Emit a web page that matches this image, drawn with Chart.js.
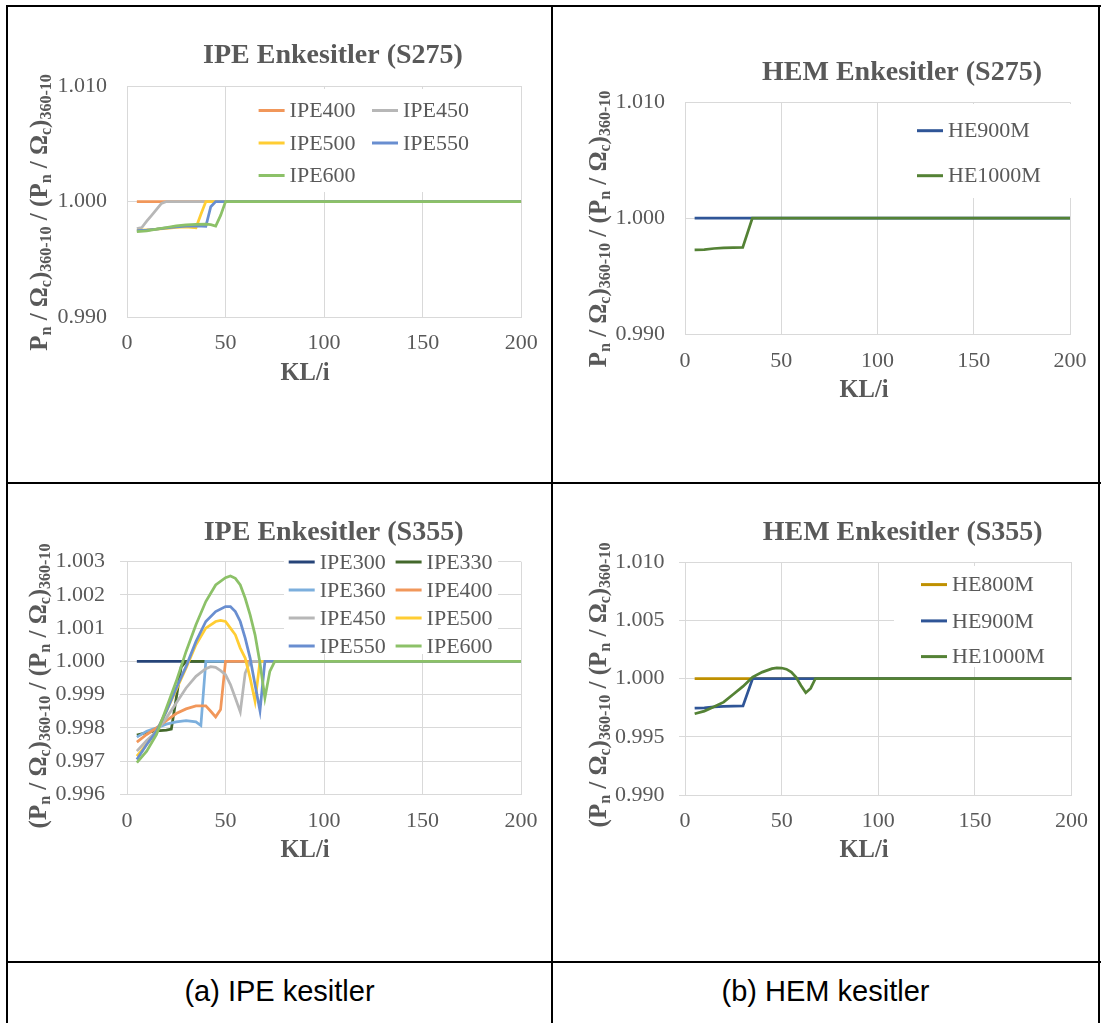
<!DOCTYPE html>
<html>
<head>
<meta charset="utf-8">
<script src="https://cdn.jsdelivr.net/npm/chart.js@4.4.1/dist/chart.umd.min.js"></script>
<style>
  html, body { margin: 0; padding: 0; background: #fff; }
  #page { position: relative; width: 1101px; height: 1023px; overflow: hidden; background: #fff; }
  .cell { position: absolute; }
  .ln { position: absolute; background: #000; }
  .cap { position: absolute; height: 40px; line-height: 40px; text-align: center;
         font: 29px "Liberation Sans", Arial, sans-serif; color: #000; }
</style>
</head>
<body>
<div id="page">
  <div class="cell" style="left:8px;top:7px"><canvas id="c1" width="543" height="475"></canvas></div>
  <div class="cell" style="left:553px;top:7px"><canvas id="c2" width="548" height="475"></canvas></div>
  <div class="cell" style="left:8px;top:484px"><canvas id="c3" width="543" height="477"></canvas></div>
  <div class="cell" style="left:553px;top:484px"><canvas id="c4" width="548" height="477"></canvas></div>

  <div class="ln" style="left:6px;top:5px;width:1095px;height:2px"></div>
  <div class="ln" style="left:6px;top:482px;width:1095px;height:2px"></div>
  <div class="ln" style="left:6px;top:961px;width:1095px;height:2px"></div>
  <div class="ln" style="left:6px;top:5px;width:2px;height:1018px"></div>
  <div class="ln" style="left:551px;top:5px;width:2px;height:1018px"></div>
  <div class="ln" style="left:1098px;top:5px;width:2px;height:1018px"></div>

  <div class="cap" style="left:8px;top:975px;width:543px">(a) IPE kesitler</div>
  <div class="cap" style="left:553px;top:975px;width:545px">(b) HEM kesitler</div>
</div>

<script>
// ---- data: [KL/i, ratio] ----
const xTicks = [0, 50, 100, 150, 200];
const yTicksS275 = [0.990, 1.000, 1.010];
const yTicksIpeS355 = [0.996, 0.997, 0.998, 0.999, 1.000, 1.001, 1.002, 1.003];
const yTicksHemS355 = [0.990, 0.995, 1.000, 1.005, 1.010];

// IPE, S275
const ipe400S275 = [[5, 1.000], [200, 1.000]];
const ipe450S275 = [[5, 0.99765], [7.5, 0.99775], [10, 0.9983], [12.5, 0.9988], [15, 0.99932], [17.5, 0.99983], [20, 1.000], [200, 1.000]];
const ipe500S275 = [[5, 0.9975], [10, 0.99755], [15, 0.9976], [20, 0.99768], [25, 0.99776], [30, 0.9978], [35, 0.99772], [37.5, 0.9989], [40, 1.000], [200, 1.000]];
const ipe550S275 = [[5, 0.99748], [10, 0.99752], [15, 0.9976], [20, 0.99772], [25, 0.9978], [30, 0.99786], [35, 0.9979], [40, 0.99785], [42.5, 0.99955], [45, 1.000], [200, 1.000]];
const ipe600S275 = [[5, 0.9974], [10, 0.99746], [15, 0.9976], [20, 0.99775], [25, 0.99788], [30, 0.99798], [35, 0.99803], [40, 0.99805], [42.5, 0.998], [45, 0.99788], [47.5, 0.9988], [50, 1.000], [200, 1.000]];

// HEM, S275
const he900mS275 = [[5, 1.000], [200, 1.000]];
const he1000mS275 = [[5, 0.99727], [10, 0.99729], [15, 0.99738], [20, 0.99744], [25, 0.99746], [30, 0.99748], [35, 1.000], [200, 1.000]];

// IPE, S355
const ipe300S355 = [[5, 1.000], [200, 1.000]];
const ipe330S355 = [[5, 0.99778], [10, 0.99786], [15, 0.99791], [20, 0.99793], [22.5, 0.99796], [27.5, 0.99983], [30, 1.000], [200, 1.000]];
const ipe360S355 = [[5, 0.99772], [10, 0.9979], [15, 0.998], [20, 0.99811], [25, 0.99818], [30, 0.99822], [35, 0.99818], [37.5, 0.99807], [40, 1.000], [200, 1.000]];
const ipe400S355 = [[5, 0.99757], [10, 0.9978], [15, 0.998], [20, 0.99822], [25, 0.99843], [30, 0.99857], [35, 0.99866], [40, 0.99866], [42.5, 0.9985], [45, 0.99833], [47.5, 0.99855], [50, 1.000], [200, 1.000]];
const ipe450S355 = [[5, 0.9973], [10, 0.99762], [15, 0.9979], [20, 0.9983], [25, 0.99875], [30, 0.9992], [35, 0.99955], [40, 0.99978], [42.5, 0.99984], [45, 0.99982], [47.5, 0.99972], [50, 0.9996], [52.5, 0.9993], [55, 0.9989], [57.5, 0.99848], [60, 0.99965], [62.5, 1.000], [200, 1.000]];
const ipe500S355 = [[5, 0.99715], [10, 0.9975], [15, 0.9979], [20, 0.9985], [25, 0.99915], [30, 0.9998], [35, 1.0005], [40, 1.001], [45, 1.0012], [47.5, 1.00123], [50, 1.0012], [52.5, 1.001], [55, 1.0008], [57.5, 1.0004], [60, 1.0001], [62.5, 0.9995], [65, 0.9988], [67.5, 1.000], [200, 1.000]];
const ipe550S355 = [[5, 0.99705], [10, 0.9975], [15, 0.9979], [20, 0.9985], [25, 0.9992], [30, 0.99985], [35, 1.0006], [40, 1.0012], [45, 1.0015], [50, 1.00165], [52.5, 1.00165], [55, 1.0015], [57.5, 1.0012], [60, 1.0007], [62.5, 1.0001], [65, 0.9993], [67.5, 0.99852], [70, 1.000], [200, 1.000]];
const ipe600S355 = [[5, 0.99695], [10, 0.9973], [15, 0.9978], [20, 0.9986], [25, 0.9994], [30, 1.0003], [35, 1.0011], [40, 1.0018], [45, 1.0023], [50, 1.00252], [52.5, 1.00257], [55, 1.0025], [57.5, 1.0023], [60, 1.0019], [62.5, 1.0014], [65, 1.0008], [67.5, 0.99995], [70, 0.9989], [72.5, 0.9997], [75, 1.000], [200, 1.000]];

// HEM, S355
const he800mS355 = [[5, 1.000], [200, 1.000]];
const he900mS355 = [[5, 0.99745], [10, 0.99748], [15, 0.99757], [20, 0.9976], [25, 0.99762], [30, 0.99765], [35, 1.000], [200, 1.000]];
const he1000mS355 = [[5, 0.99697], [10, 0.9972], [15, 0.99757], [20, 0.99797], [25, 0.99865], [30, 0.99932], [35, 1.00012], [40, 1.00055], [45, 1.00085], [47.5, 1.00092], [50, 1.0009], [52.5, 1.0008], [55, 1.00055], [57.5, 1.0001], [60, 0.9994], [62.5, 0.99878], [65, 0.99915], [67.5, 1.000], [200, 1.000]];

// ---- styles / layout ----
const INK = '#595959';
const GRID = '#d9d9d9';
const SERIF = '"Liberation Serif", "Times New Roman", serif';

const panels = [
  {
    id: 'c1', box: [8, 7, 543, 475], plot: [127, 86, 522, 317],
    yMin: 0.990, yMax: 1.010, yTicks: yTicksS275, tickLen: 0, yPad: 20, xPad: 13.3,
    title: 'IPE Enkesitler (S275)', titleAt: [333, 56], xTitleAt: [305, 373.3],
    yTitleOpen: false, yTitleAt: [47.4, 212.5],
    legendBox: [245, 89, 255, 103], legendCols: [258.6, 372], legendRows: [110.5, 143, 175.5],
    series: [
      { label: 'IPE400', color: '#F1975A', data: ipe400S275 },
      { label: 'IPE450', color: '#B7B7B7', data: ipe450S275 },
      { label: 'IPE500', color: '#FFCD33', data: ipe500S275 },
      { label: 'IPE550', color: '#698ED0', data: ipe550S275 },
      { label: 'IPE600', color: '#8CC168', data: ipe600S275 }
    ]
  },
  {
    id: 'c2', box: [553, 7, 548, 475], plot: [685, 102.3, 1081, 334],
    yMin: 0.990, yMax: 1.010, yTicks: yTicksS275, tickLen: 0, yPad: 20, xPad: 14.5,
    title: 'HEM Enkesitler (S275)', titleAt: [902, 72.5], xTitleAt: [864, 390.7],
    yTitleOpen: false, yTitleAt: [606.4, 229],
    legendBox: [905, 104, 170, 94], legendCols: [917], legendRows: [130.7, 175.7],
    series: [
      { label: 'HE900M', color: '#2F5597', data: he900mS275 },
      { label: 'HE1000M', color: '#548235', data: he1000mS275 }
    ]
  },
  {
    id: 'c3', box: [8, 484, 543, 477], plot: [127, 561.7, 522, 794.3],
    yMin: 0.996, yMax: 1.003, yTicks: yTicksIpeS355, tickLen: 7, yPad: 15, xPad: 13.5,
    title: 'IPE Enkesitler (S355)', titleAt: [333.6, 532.5], xTitleAt: [305, 850.5],
    yTitleOpen: true, yTitleAt: [45.6, 686],
    legendBox: [284, 550, 214, 104], legendCols: [288.7, 395.6], legendRows: [562, 590, 618, 646],
    series: [
      { label: 'IPE300', color: '#264478', data: ipe300S355 },
      { label: 'IPE330', color: '#43682B', data: ipe330S355 },
      { label: 'IPE360', color: '#7CAFDD', data: ipe360S355 },
      { label: 'IPE400', color: '#F1975A', data: ipe400S355 },
      { label: 'IPE450', color: '#B7B7B7', data: ipe450S355 },
      { label: 'IPE500', color: '#FFCD33', data: ipe500S355 },
      { label: 'IPE550', color: '#698ED0', data: ipe550S355 },
      { label: 'IPE600', color: '#8CC168', data: ipe600S355 }
    ]
  },
  {
    id: 'c4', box: [553, 484, 548, 477], plot: [685, 562, 1081, 795],
    yMin: 0.990, yMax: 1.010, yTicks: yTicksHemS355, tickLen: 6, yPad: 14.5, xPad: 13,
    title: 'HEM Enkesitler (S355)', titleAt: [902.7, 532.5], xTitleAt: [864, 850.5],
    yTitleOpen: true, yTitleAt: [606.4, 685],
    legendBox: [894, 566, 177, 101], legendCols: [921], legendRows: [584.6, 620.9, 656.6],
    series: [
      { label: 'HE800M', color: '#BF9000', data: he800mS355 },
      { label: 'HE900M', color: '#2F5597', data: he900mS355 },
      { label: 'HE1000M', color: '#548235', data: he1000mS355 }
    ]
  }
];

// fixed axis box sizes, wide enough that the tick labels are not clipped
const Y_W = 90, X_H = 60;

function drawYTitle(ctx, open, bx, cy) {
  const parts = (open ? [['(', 0]] : []).concat([
    ['P', 0], ['n', 1], [' / Ω', 0], ['c', 1], [')', 0], ['360-10', 1],
    [' / (P', 0], ['n', 1], [' / Ω', 0], ['c', 1], [')', 0], ['360-10', 1]
  ]);
  const big = 'bold 25px ' + SERIF, small = 'bold 16px ' + SERIF;
  let total = 0;
  parts.forEach(([t, s]) => { ctx.font = s ? small : big; total += ctx.measureText(t).width; });
  ctx.save();
  ctx.translate(bx, cy);
  ctx.rotate(-Math.PI / 2);
  ctx.fillStyle = INK;
  ctx.textAlign = 'left';
  ctx.textBaseline = 'alphabetic';
  let x = -total / 2;
  parts.forEach(([t, s]) => {
    ctx.font = s ? small : big;
    ctx.fillText(t, x, s ? 4 : 0);
    x += ctx.measureText(t).width;
  });
  ctx.restore();
}

function makeDecor(p) {
  const ox = p.box[0], oy = p.box[1];
  return {
    id: 'decor_' + p.id,
    beforeDatasetsDraw(chart) {
      // white legend background interrupts the gridlines
      const ctx = chart.ctx, b = p.legendBox;
      ctx.save();
      ctx.fillStyle = '#ffffff';
      ctx.fillRect(b[0] - ox, b[1] - oy, b[2], b[3]);
      ctx.restore();
    },
    afterDraw(chart) {
      const ctx = chart.ctx;
      ctx.save();
      ctx.fillStyle = INK;
      ctx.textAlign = 'center';
      ctx.textBaseline = 'middle';
      ctx.font = 'bold 28px ' + SERIF;
      ctx.fillText(p.title, p.titleAt[0] - ox, p.titleAt[1] - oy);
      ctx.font = 'bold 24.5px ' + SERIF;
      ctx.fillText('KL/i', p.xTitleAt[0] - ox, p.xTitleAt[1] - oy);

      ctx.font = '22px ' + SERIF;
      ctx.textAlign = 'left';
      const nc = p.legendCols.length;
      p.series.forEach((s, i) => {
        const lx = p.legendCols[i % nc] - ox;
        const ly = p.legendRows[Math.floor(i / nc)] - oy;
        ctx.strokeStyle = s.color;
        ctx.lineWidth = 3;
        ctx.beginPath();
        ctx.moveTo(lx, ly);
        ctx.lineTo(lx + 26, ly);
        ctx.stroke();
        ctx.fillText(s.label, lx + 31, ly + 1);
      });
      ctx.restore();

      drawYTitle(ctx, p.yTitleOpen, p.yTitleAt[0] - ox, p.yTitleAt[1] - oy);
    }
  };
}

panels.forEach(p => {
  const [bx, by, bw, bh] = p.box;
  const [pl, pt, pr, pb] = p.plot;
  const n = p.series.length;

  new Chart(document.getElementById(p.id), {
    type: 'line',
    data: {
      datasets: p.series.map((s, i) => ({
        label: s.label,
        data: s.data.map(([x, y]) => ({ x, y })),
        borderColor: s.color,
        backgroundColor: s.color,
        borderWidth: 2.75,
        pointRadius: 0,
        tension: 0,
        fill: false,
        order: n - i   // later series drawn on top, as in the original
      }))
    },
    options: {
      responsive: false,
      animation: false,
      events: [],
      layout: {
        padding: {
          left: pl - bx - Y_W,
          top: pt - by,
          right: bx + bw - pr,
          bottom: by + bh - pb - X_H
        }
      },
      scales: {
        x: {
          type: 'linear', min: 0, max: 200,
          afterBuildTicks: s => { s.ticks = xTicks.map(v => ({ value: v })); },
          afterFit: s => { s.height = X_H; },
          grid: { color: GRID, lineWidth: 1, drawTicks: false },
          border: { color: GRID, width: 1 },
          ticks: {
            padding: p.xPad, color: INK, maxRotation: 0, autoSkip: false,
            font: { family: SERIF, size: 22 },
            callback: v => String(v)
          }
        },
        y: {
          type: 'linear', min: p.yMin, max: p.yMax,
          afterBuildTicks: s => { s.ticks = p.yTicks.map(v => ({ value: v })); },
          afterFit: s => { s.width = Y_W; },
          grid: { color: GRID, lineWidth: 1, drawTicks: p.tickLen > 0, tickLength: p.tickLen },
          border: { color: GRID, width: 1 },
          ticks: {
            padding: p.yPad, color: INK, autoSkip: false,
            font: { family: SERIF, size: 22 },
            callback: v => Number(v).toFixed(3)
          }
        }
      },
      plugins: {
        legend: { display: false },
        title: { display: false },
        tooltip: { enabled: false }
      }
    },
    plugins: [makeDecor(p)]
  });
});
</script>
</body>
</html>
